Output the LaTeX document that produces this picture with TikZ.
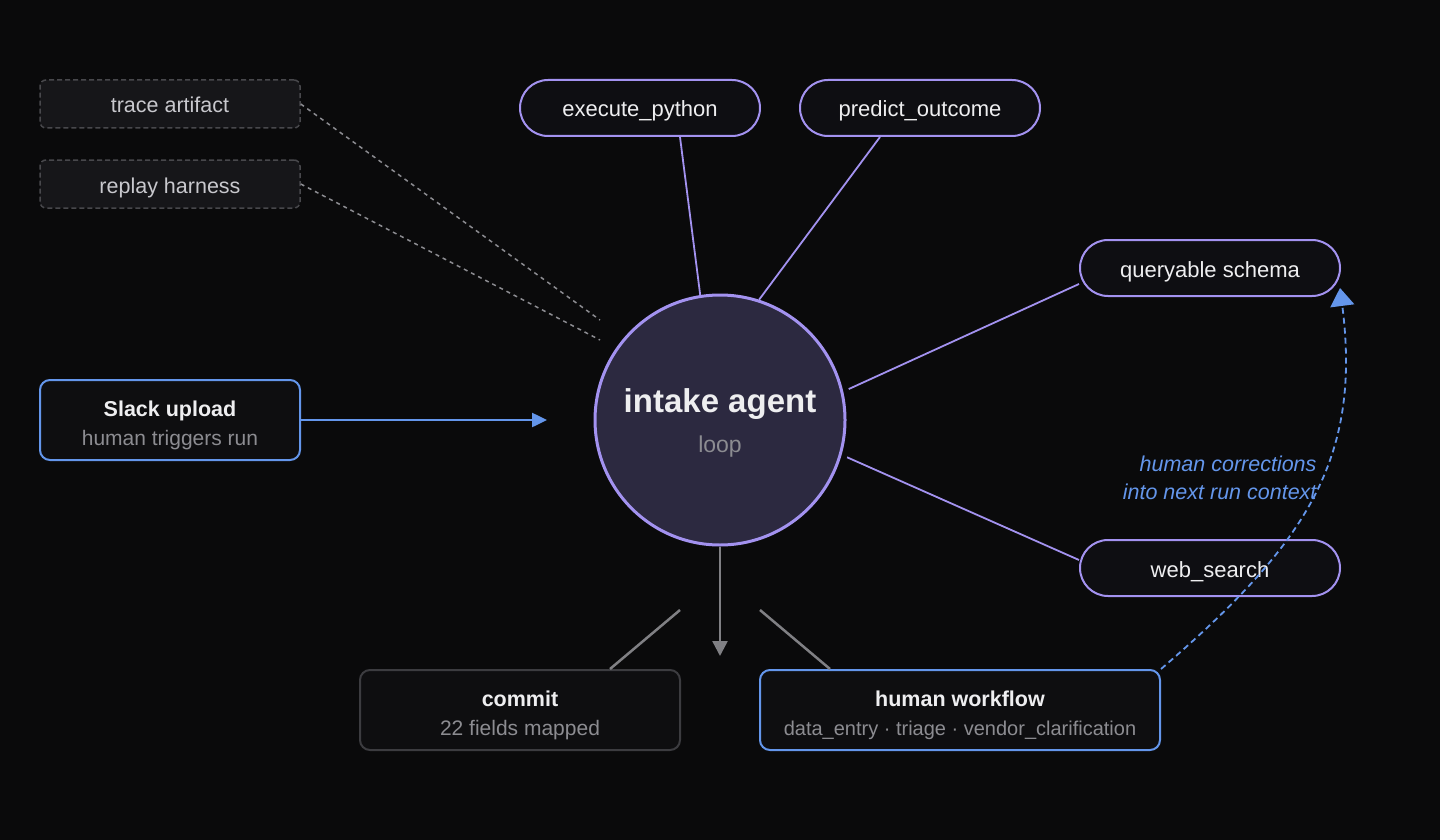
\documentclass[tikz,border=0pt]{standalone}
\usepackage{fontspec}
\setmainfont{Liberation Sans}
\usetikzlibrary{arrows.meta,positioning,calc}

\definecolor{bgcol}{RGB}{10,10,11}
\definecolor{lav}{RGB}{163,146,240}
\definecolor{agentfill}{RGB}{44,41,64}
\definecolor{pillfill}{RGB}{14,14,18}
\definecolor{flowblue}{RGB}{100,150,235}
\definecolor{wire}{RGB}{128,128,132}
\definecolor{ghostfill}{RGB}{22,22,25}
\definecolor{ghostline}{RGB}{72,72,76}
\definecolor{ghosttext}{RGB}{200,200,205}
\definecolor{cardline}{RGB}{60,60,64}
\definecolor{cardfill}{RGB}{14,14,16}
\definecolor{txtwhite}{RGB}{238,238,240}
\definecolor{subgray}{RGB}{140,140,145}

\tikzset{
  toolpill/.style={draw=lav, fill=pillfill, line width=2pt, rounded corners=28pt,
    minimum width=240pt, minimum height=56pt, inner sep=0pt, text=txtwhite,
    text height=21pt, text depth=3pt, font=\fontsize{22}{26}\selectfont},
  ghostbox/.style={draw=ghostline, dash pattern=on 5pt off 3pt, fill=ghostfill,
    line width=1.5pt, rounded corners=6pt, minimum width=260pt, minimum height=48pt,
    inner sep=0pt, text=ghosttext, text height=21pt, text depth=3pt,
    font=\fontsize{21.5}{26}\selectfont},
  cardbox/.style={fill=cardfill, line width=2pt, rounded corners=10pt, minimum height=80pt,
    inner sep=0pt, align=center, text=txtwhite, font=\fontsize{21}{29}\selectfont},
  spoke/.style={draw=lav, line width=1.8pt},
  ghostwire/.style={draw=subgray, line width=1.5pt, dash pattern=on 4pt off 4pt},
  graywire/.style={draw=wire, line width=2.5pt},
}
\newcommand{\cardhead}[1]{{\bfseries\fontsize{21.5}{29}\selectfont\rule{0pt}{26pt}#1}}

\begin{document}
\begin{tikzpicture}[x=1pt, y=-1pt]
  \fill[bgcol] (0,0) rectangle (1440,840);
  \useasboundingbox (0,0) rectangle (1440,840);

  % agent in the middle
  \node[circle, draw=lav, fill=agentfill, line width=3pt, minimum size=250pt,
    inner sep=0pt, align=center, text=txtwhite, font=\fontsize{23}{40}\selectfont]
    (agent) at (720,420) {{\bfseries\fontsize{33}{40}\selectfont\rule{0pt}{30pt}intake agent}\\
    {\color{subgray}loop}};

  % tools
  \node[toolpill] (exec) at (640,108) {execute\_python};
  \node[toolpill] (pred) at (920,108) {predict\_outcome};
  \node[toolpill, minimum width=260pt] (query) at (1210,268) {queryable schema};
  \node[toolpill, minimum width=260pt] (web) at (1210,568) {web\_search};

  % debugging side
  \node[ghostbox] (trace) at (170,104) {trace artifact};
  \node[ghostbox] (replay) at (170,184) {replay harness};

  % input and outputs
  \node[cardbox, draw=flowblue, minimum width=260pt] (slack) at (170,420)
    {\cardhead{Slack upload}\\{\color{subgray}human triggers run}};
  \node[cardbox, draw=cardline, minimum width=320pt] (commit) at (520,710)
    {\cardhead{commit}\\{\color{subgray}22 fields mapped}};
  \node[cardbox, draw=flowblue, minimum width=400pt] (hw) at (960,710)
    {\cardhead{human workflow}\\
    {\color{subgray}\fontsize{20}{29}\selectfont data\_entry · triage · vendor\_clarification}};

  \coordinate (trend) at (600,320);
  \coordinate (rpend) at (600,340);
  \coordinate (slackend) at (547,420);
  \coordinate (downend) at (720,656);
  \coordinate (cmend) at (680,610);
  \coordinate (hwend) at (760,610);
  \coordinate (qtip) at (1340,288);

  \draw[spoke] ([xshift=40pt]exec.south) -- (agent.99);
  \draw[spoke] ([xshift=-40pt]pred.south) -- (agent.72);
  \draw[spoke, shorten >=6pt] ([yshift=-16pt]query.west) -- (agent.13);
  \draw[spoke, shorten >=6pt] ([yshift=8pt]web.west) -- (agent.-16);

  \draw[ghostwire] (trace.east) -- (trend);
  \draw[ghostwire] (replay.east) -- (rpend);

  \draw[draw=flowblue, line width=2.5pt, -{Triangle[length=15pt,width=14pt]}]
    (slack.east) -- (slackend);
  \draw[graywire, -{Triangle[length=15pt,width=15pt]}] (agent.south) -- (downend);
  \draw[graywire] ([xshift=90pt]commit.north) -- (cmend);
  \draw[graywire] ([xshift=-130pt]hw.north) -- (hwend);

  % feedback loop
  \draw[draw=flowblue, line width=1.8pt, dash pattern=on 6pt off 4pt,
    -{Triangle[length=18pt,width=24pt]}]
    (hw.north east) .. controls (1305,545) and (1362,460) .. (qtip);
  \node[anchor=east, align=right, text=flowblue, font=\itshape\fontsize{21.5}{28}\selectfont]
    (corr) at (1320,478) {human corrections\\into next run context};
\end{tikzpicture}
\end{document}
